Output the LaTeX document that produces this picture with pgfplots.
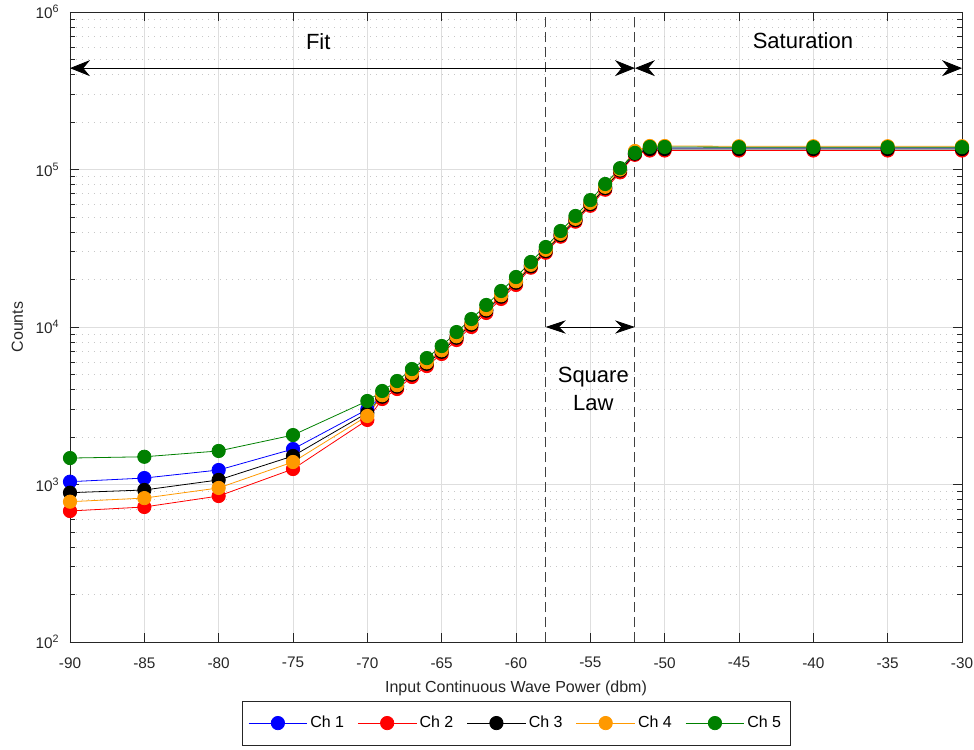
\documentclass[border=0pt]{standalone}
\usepackage{fontspec}
\setmainfont{Liberation Sans}
\usepackage{pgfplots}
\pgfplotsset{compat=1.18}
\usetikzlibrary{arrows.meta}
\definecolor{axgray}{rgb}{0.15,0.15,0.15}
\definecolor{chfour}{rgb}{1,0.6,0}
\definecolor{chfive}{rgb}{0,0.5,0}
\begin{document}
\begin{tikzpicture}
\begin{axis}[
  name=ax,
  scale only axis, width=669pt, height=472.5pt,
  ymode=log, xmin=-90, xmax=-30, ymin=1e2, ymax=1e6,
  clip=false,
  xtick={-90,-85,...,-30},
  ytick={1e2,1e3,1e4,1e5,1e6},
  yticklabels={10\textsuperscript{2},10\textsuperscript{3},10\textsuperscript{4},10\textsuperscript{5},10\textsuperscript{6}},
  /pgf/number format/assume math mode=true,
  tick label style={font=\fontsize{11.5}{13}\selectfont, text=axgray},
  xticklabel style={yshift=-8pt},
  yticklabel style={xshift=-4.5pt},
  label style={font=\fontsize{12}{14}\selectfont, text=axgray},
  xlabel={Input Continuous Wave Power (dbm)},
  ylabel={Counts},
  xlabel style={at={(axis description cs:0.5,0)}, anchor=center, yshift=-34.5pt},
  ylabel style={at={(axis description cs:0,0.5)}, anchor=center, rotate=0, yshift=39.5pt},
  grid=both,
  major grid style={black!13, line width=0.6pt},
  minor grid style={black!22, line width=0.6pt, dash pattern=on 0.75pt off 3.75pt},
  axis line style={axgray, line width=0.6pt},
  tick style={axgray, line width=0.6pt},
  tick align=inside,
  major tick length=6.5pt, minor tick length=3.75pt,
  every axis plot/.append style={line width=0.6pt, mark=*, mark size=5pt},
  legend columns=5,
  legend style={at={(0.5,0)}, anchor=north, yshift=-44pt, draw=axgray,
    font=\fontsize{12}{14}\selectfont, inner ysep=9.5pt, inner xsep=4.5pt,
    /tikz/every even column/.append style={column sep=8pt}},
  legend image code/.code={\draw[mark repeat=2,mark phase=2,#1] plot coordinates {(0pt,0pt) (22pt,0pt) (44pt,0pt)};},
]
% annotations
\draw[black!75, line width=0.75pt, dash pattern=on 7.5pt off 3.75pt] (axis cs:-58,1e2) -- (axis cs:-58,1e6);
\draw[black!75, line width=0.75pt, dash pattern=on 7.5pt off 3.75pt] (axis cs:-52,1e2) -- (axis cs:-52,1e6);
\draw[black, line width=0.6pt, {Stealth[length=15pt,width=12pt,inset=5pt]}-{Stealth[length=15pt,width=12pt,inset=5pt]}] (axis cs:-90,4.4e5) -- (axis cs:-52,4.4e5);
\draw[black, line width=0.6pt, {Stealth[length=15pt,width=12pt,inset=5pt]}-{Stealth[length=15pt,width=12pt,inset=5pt]}] (axis cs:-52,4.4e5) -- (axis cs:-30,4.4e5);
\draw[black, line width=0.6pt, {Stealth[length=15pt,width=10pt,inset=5pt]}-{Stealth[length=15pt,width=10pt,inset=5pt]}] (axis cs:-58,1.0e4) -- (axis cs:-52,1.0e4);
\node[font=\fontsize{16.5}{21}\selectfont] at (axis cs:-73.3,6.45e5) {Fit};
\node[font=\fontsize{16.5}{21}\selectfont] at (axis cs:-40.7,6.6e5) {Saturation};
\node[font=\fontsize{16.5}{21}\selectfont, align=center] at (axis cs:-54.8,4040) {Square\\Law};

\addplot[blue] coordinates {
(-90,1042) (-85,1099) (-80,1236) (-75,1679) (-70,3000)
(-69,3650) (-68,4220) (-67,5030) (-66,5905) (-65,7040) (-64,8640) (-63,10450) (-62,12830) (-61,15750) (-60,19320)
(-59,24580) (-58,30590) (-57,38670) (-56,48170) (-55,60770) (-54,76860) (-53,99000) (-52,125000)
(-51,137000) (-50,137000) (-45,137000) (-40,137000) (-35,137000) (-30,137000)};
\addlegendentry{Ch 1}
\addplot[red] coordinates {
(-90,679) (-85,720) (-80,845) (-75,1254) (-70,2570)
(-69,3490) (-68,4040) (-67,4815) (-66,5650) (-65,6740) (-64,8270) (-63,10000) (-62,12280) (-61,15070) (-60,18490)
(-59,23800) (-58,29620) (-57,37440) (-56,46640) (-55,58850) (-54,74430) (-53,95900) (-52,124000)
(-51,132000) (-50,132000) (-45,132000) (-40,132000) (-35,132000) (-30,132000)};
\addlegendentry{Ch 2}
\addplot[black] coordinates {
(-90,887) (-85,923) (-80,1069) (-75,1517) (-70,2850)
(-69,3610) (-68,4180) (-67,4980) (-66,5840) (-65,6960) (-64,8550) (-63,10340) (-62,12700) (-61,15580) (-60,19110)
(-59,24300) (-58,30300) (-57,38300) (-56,47700) (-55,60200) (-54,76100) (-53,98500) (-52,126000)
(-51,135000) (-50,135000) (-45,135000) (-40,135000) (-35,135000) (-30,135000)};
\addlegendentry{Ch 3}
\addplot[chfour] coordinates {
(-90,778) (-85,820) (-80,951) (-75,1390) (-70,2723)
(-69,3690) (-68,4270) (-67,5085) (-66,5970) (-65,7115) (-64,8730) (-63,10570) (-62,12970) (-61,15910) (-60,19520)
(-59,24840) (-58,30910) (-57,39070) (-56,48670) (-55,61410) (-54,77660) (-53,100000) (-52,131000)
(-51,141000) (-50,141000) (-45,140500) (-40,140500) (-35,140500) (-30,140500)};
\addlegendentry{Ch 4}
\addplot[chfive] coordinates {
(-90,1472) (-85,1500) (-80,1633) (-75,2060) (-70,3390)
(-69,3925) (-68,4540) (-67,5410) (-66,6350) (-65,7570) (-64,9290) (-63,11240) (-62,13800) (-61,16930) (-60,20770)
(-59,25870) (-58,32200) (-57,40700) (-56,50700) (-55,63970) (-54,80900) (-53,102000) (-52,127400)
(-51,139000) (-50,139000) (-45,138500) (-40,138500) (-35,138500) (-30,138500)};
\addlegendentry{Ch 5}
\end{axis}
\pgfresetboundingbox
\path[use as bounding box] ([shift={(-52.5pt,-80.25pt)}]ax.south west) rectangle ([shift={(9pt,9pt)}]ax.north east);
\end{tikzpicture}
\end{document}
